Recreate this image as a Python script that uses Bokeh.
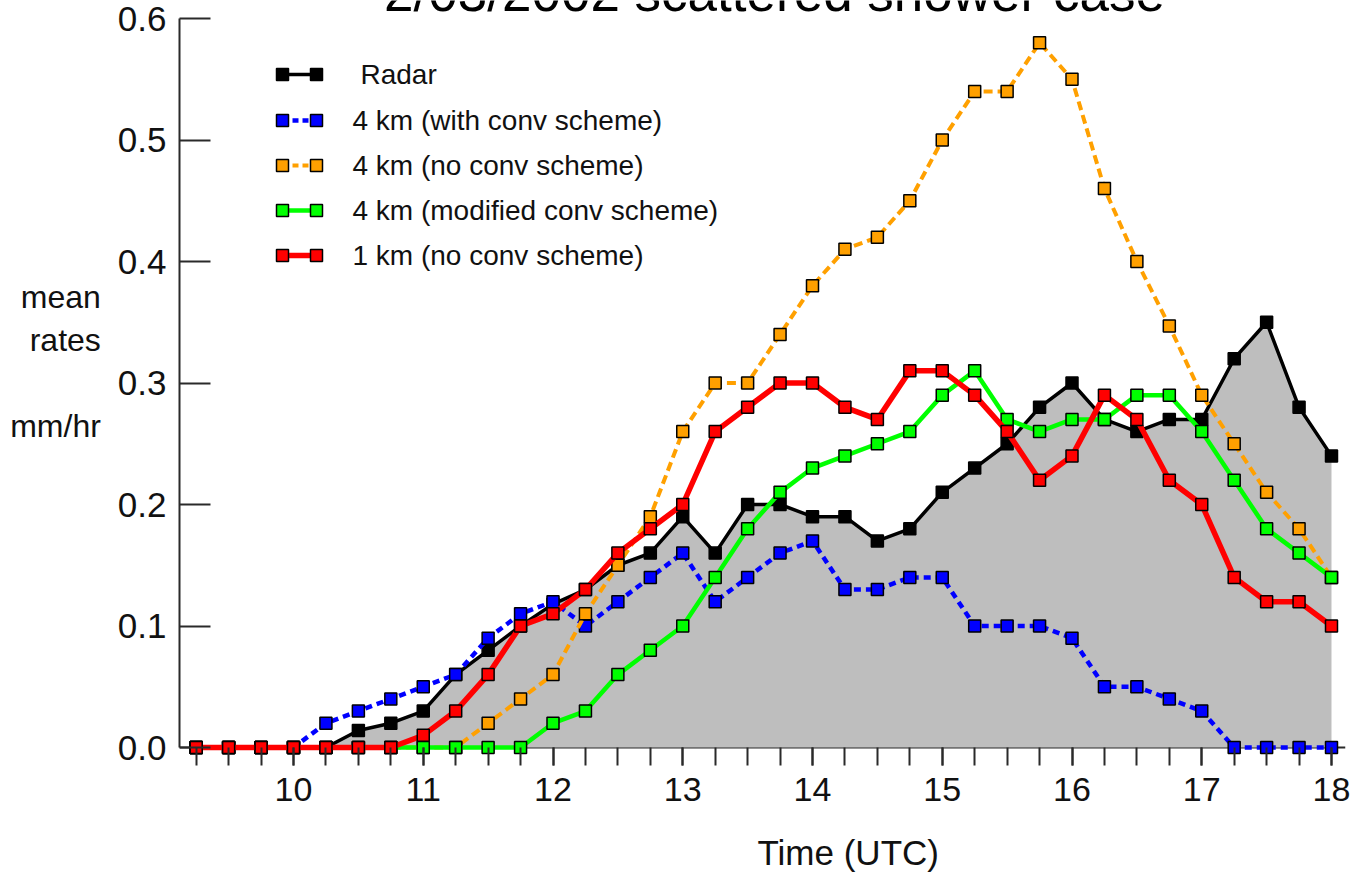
from bokeh.plotting import figure
from bokeh.models import Range1d, FixedTicker, NumeralTickFormatter, Span, Label, Title
from bokeh.embed import file_html
from bokeh.resources import INLINE

# ---- data: mean precipitation rates (mm/hr) every 15 minutes, 09:15-18:00 UTC ----
TIME = [9.25, 9.5, 9.75, 10.0, 10.25, 10.5, 10.75, 11.0, 11.25, 11.5, 11.75, 12.0,
        12.25, 12.5, 12.75, 13.0, 13.25, 13.5, 13.75, 14.0, 14.25, 14.5, 14.75, 15.0,
        15.25, 15.5, 15.75, 16.0, 16.25, 16.5, 16.75, 17.0, 17.25, 17.5, 17.75, 18.0]

RADAR = [0.0, 0.0, 0.0, 0.0, 0.0, 0.014, 0.02, 0.03, 0.06, 0.08, 0.10, 0.118,
         0.13, 0.15, 0.16, 0.19, 0.16, 0.20, 0.20, 0.19, 0.19, 0.17, 0.18, 0.21,
         0.23, 0.25, 0.28, 0.30, 0.27, 0.26, 0.27, 0.27, 0.32, 0.35, 0.28, 0.24]

KM4_CONV = [0.0, 0.0, 0.0, 0.0, 0.02, 0.03, 0.04, 0.05, 0.06, 0.09, 0.11, 0.12,
            0.10, 0.12, 0.14, 0.16, 0.12, 0.14, 0.16, 0.17, 0.13, 0.13, 0.14, 0.14,
            0.10, 0.10, 0.10, 0.09, 0.05, 0.05, 0.04, 0.03, 0.0, 0.0, 0.0, 0.0]

KM4_NOCONV = [0.0, 0.0, 0.0, 0.0, 0.0, 0.0, 0.0, 0.0, 0.0, 0.02, 0.04, 0.06,
              0.11, 0.15, 0.19, 0.26, 0.30, 0.30, 0.34, 0.38, 0.41, 0.42, 0.45, 0.50,
              0.54, 0.54, 0.58, 0.55, 0.46, 0.40, 0.347, 0.29, 0.25, 0.21, 0.18, 0.14]

KM4_MODCONV = [0.0, 0.0, 0.0, 0.0, 0.0, 0.0, 0.0, 0.0, 0.0, 0.0, 0.0, 0.02,
               0.03, 0.06, 0.08, 0.10, 0.14, 0.18, 0.21, 0.23, 0.24, 0.25, 0.26, 0.29,
               0.31, 0.27, 0.26, 0.27, 0.27, 0.29, 0.29, 0.26, 0.22, 0.18, 0.16, 0.14]

KM1_NOCONV = [0.0, 0.0, 0.0, 0.0, 0.0, 0.0, 0.0, 0.01, 0.03, 0.06, 0.10, 0.11,
              0.13, 0.16, 0.18, 0.20, 0.26, 0.28, 0.30, 0.30, 0.28, 0.27, 0.31, 0.31,
              0.29, 0.26, 0.22, 0.24, 0.29, 0.27, 0.22, 0.20, 0.14, 0.12, 0.12, 0.10]

X_TICKS = [10, 11, 12, 13, 14, 15, 16, 17, 18]
X_MINOR_TICKS = TIME
Y_TICKS = [0.0, 0.1, 0.2, 0.3, 0.4, 0.5, 0.6]

TITLE = "2/03/2002 scattered shower case"
X_LABEL = "Time (UTC)"
Y_LABEL = "mean\nrates\n \nmm/hr\n "

SERIES = [
    # (label, values, colour, line width, dash)
    ("Radar", RADAR, "black", 3.5, "solid"),
    ("4 km (with conv scheme)", KM4_CONV, "#0000ff", 4.5, "7 5"),
    ("4 km (no conv scheme)", KM4_NOCONV, "#ffa000", 4, "9 5"),
    ("4 km (modified conv scheme)", KM4_MODCONV, "#00ff00", 4.5, "solid"),
    ("1 km (no conv scheme)", KM1_NOCONV, "#ff0000", 5.5, "solid"),
]

# ---- layout geometry (pixels) ----
W, H = 1354, 875
FRAME_L, FRAME_R, FRAME_T, FRAME_B = 179, 1345, 0, 765
PX_PER_H = 129.75
ZERO_PX = 747
TOP_TICK_PX = 18
PX_PER_UNIT = (ZERO_PX - TOP_TICK_PX) / 0.6
X0 = 10 - (293 - FRAME_L) / PX_PER_H
X1 = X0 + (FRAME_R - FRAME_L) / PX_PER_H
Y0 = -(FRAME_B - ZERO_PX) / PX_PER_UNIT
Y1 = (ZERO_PX - FRAME_T) / PX_PER_UNIT


def dx(px):
    return X0 + (px - FRAME_L) / PX_PER_H


def dy(py):
    return (ZERO_PX - py) / PX_PER_UNIT


FONT = "Liberation Sans"
INK = "#111111"
AXIS = "#2a2a2a"

p = figure(width=W, height=H, x_range=Range1d(X0, X1), y_range=Range1d(Y0, Y1),
           output_backend="svg", toolbar_location=None, title=None,
           min_border_left=FRAME_L, min_border_right=W - FRAME_R,
           min_border_top=FRAME_T, min_border_bottom=H - FRAME_B)
p.outline_line_color = None
p.xgrid.visible = False
p.ygrid.visible = False
p.background_fill_color = "white"
p.border_fill_color = "white"

# y axis: ticks pointing inward, line running 0 .. 0.6
ya = p.yaxis[0]
ya.ticker = FixedTicker(ticks=Y_TICKS)
ya.formatter = NumeralTickFormatter(format="0.0")
ya.bounds = (0, 0.6)
ya.axis_line_color = AXIS
ya.axis_line_width = 2
ya.major_tick_line_color = AXIS
ya.major_tick_line_width = 2
ya.major_tick_in = 31
ya.major_tick_out = 0
ya.minor_tick_line_color = None
ya.major_label_text_font = FONT
ya.major_label_text_font_size = "35px"
ya.major_label_text_color = INK
ya.major_label_standoff = 13
ya.axis_label = Y_LABEL
ya.axis_label_orientation = "horizontal"
ya.axis_label_text_align = "center"
ya.axis_label_text_font = FONT
ya.axis_label_text_font_size = "32px"
ya.axis_label_text_font_style = "normal"
ya.axis_label_text_color = INK
ya.axis_label_standoff = 14

# x axis: quarter-hour ticks hanging below the zero line
xa = p.xaxis[0]
xa.ticker = FixedTicker(ticks=X_TICKS, minor_ticks=X_MINOR_TICKS)
xa.axis_line_color = None
xa.major_tick_line_color = AXIS
xa.major_tick_line_width = 2
xa.major_tick_in = FRAME_B - ZERO_PX
xa.major_tick_out = 0
xa.minor_tick_line_color = AXIS
xa.minor_tick_line_width = 2
xa.minor_tick_in = FRAME_B - ZERO_PX
xa.minor_tick_out = 0
xa.major_label_text_font = FONT
xa.major_label_text_font_size = "34px"
xa.major_label_text_color = INK
xa.major_label_standoff = 12
# blank axis label keeps a gap between the tick labels and the axis title
xa.axis_label = " "
xa.axis_label_text_font_size = "10px"
xa.axis_label_standoff = 13

p.add_layout(Span(location=0, dimension="width", line_color=AXIS, line_width=2,
                  level="underlay"))

# x axis title, placed right of the frame centre
p.add_layout(Title(text=X_LABEL, align="left", offset=578, text_font=FONT,
                   text_font_size="35px", text_font_style="normal",
                   text_color=INK, standoff=0), "below")

# radar area
p.varea(x=TIME, y1=[0.0] * len(TIME), y2=RADAR, fill_color="#bebebe")

for label, vals, col, lw, dash in SERIES:
    p.line(TIME, vals, line_color=col, line_width=lw, line_dash=dash)
    fill = "black" if label == "Radar" else col
    p.scatter(TIME, vals, marker="square", size=12, fill_color=fill,
              line_color="black", line_width=1.5)

# legend samples
LEG_Y = [74, 120, 165, 210, 255]
for (label, vals, col, lw, dash), ly in zip(SERIES, LEG_Y):
    xs = [dx(282), dx(316)]
    ys = [dy(ly), dy(ly)]
    p.line(xs, ys, line_color=col, line_width=lw,
           line_dash="solid" if dash == "solid" else "6 4")
    fill = "black" if label == "Radar" else col
    p.scatter(xs, ys, marker="square", size=12, fill_color=fill,
              line_color="black", line_width=1.5)
    tx = 360 if label == "Radar" else 352
    p.add_layout(Label(x=dx(tx), y=dy(ly), text=label, text_font=FONT,
                       text_font_size="28px", text_color=INK,
                       text_baseline="middle", text_align="left"))

# title (top edge runs off the page)
p.add_layout(Label(x=dx(774), y=dy(-8), text=TITLE, text_font=FONT,
                   text_font_size="53px", text_color="black",
                   text_baseline="middle", text_align="center"))

open("out.html", "w").write(file_html(p, INLINE))
